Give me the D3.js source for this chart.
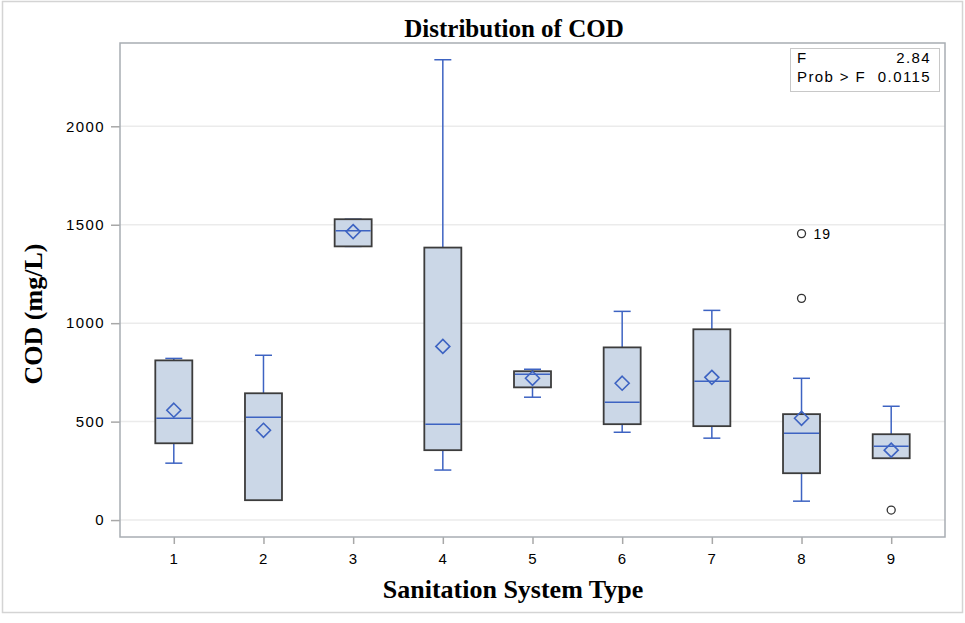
<!DOCTYPE html>
<html>
<head>
<meta charset="utf-8">
<script src="https://cdn.jsdelivr.net/npm/d3@7"></script>
<style>
  body { margin: 0; background: #fff; }
  svg text { fill: #000; }
</style>
</head>
<body>
<svg id="chart" width="965" height="623"></svg>
<script>
// data
var types = ["1", "2", "3", "4", "5", "6", "7", "8", "9"];
var whiskLow  = [289, 101, 1390, 254, 624, 446, 416, 96, 314];
var q1        = [390, 101, 1390, 355, 674, 487, 477, 238, 314];
var median    = [517, 522, 1470, 487, 740, 598, 705, 441, 375];
var q3        = [811, 644, 1528, 1384, 756, 877, 969, 538, 436];
var whiskHigh = [821, 837, 1528, 2338, 766, 1060, 1065, 720, 578];
var means     = [558, 456, 1465, 882, 720, 695, 725, 517, 355];
var outliers  = [
  {type: "8", value: 1455, label: "19"},
  {type: "8", value: 1126, label: ""},
  {type: "9", value: 51, label: ""}
];
var yTicks = [0, 500, 1000, 1500, 2000];
var stats = [["F", "2.84"], ["Prob > F", "0.0115"]];

var svg = d3.select("#chart");
var pLeft = 120, pRight = 945, pTop = 43, pBottom = 537;

var x = d3.scalePoint().domain(types).range([pLeft, pRight]).padding(0.6);
var y = d3.scaleLinear().domain([-86, 2423]).range([pBottom, pTop]);

var blue = "#3d63c2";
var boxW = 37, capW = 17;
var sans = "Liberation Sans, Arial, sans-serif";
var serif = "Liberation Serif, Times New Roman, serif";

// outer border
svg.append("rect")
  .attr("x", 2.5).attr("y", 1.5).attr("width", 960).attr("height", 611)
  .attr("fill", "none").attr("stroke", "#d4d4d4").attr("stroke-width", 1.5);

// grid
svg.append("g").selectAll("line").data(yTicks).enter().append("line")
  .attr("x1", pLeft).attr("x2", pRight)
  .attr("y1", function(d) { return y(d); }).attr("y2", function(d) { return y(d); })
  .attr("stroke", "#ebebeb").attr("stroke-width", 1.5);

// axes
var yAxis = svg.append("g").attr("transform", "translate(" + pLeft + ",0)")
  .call(d3.axisLeft(y).tickValues(yTicks).tickSize(9).tickPadding(6).tickFormat(d3.format("d")));
var xAxis = svg.append("g").attr("transform", "translate(0," + pBottom + ")")
  .call(d3.axisBottom(x).tickSize(7).tickPadding(9));
[yAxis, xAxis].forEach(function(a) {
  a.select(".domain").remove();
  a.selectAll(".tick line").attr("stroke", "#a8a8a8").attr("stroke-width", 1.5);
  a.selectAll(".tick text").attr("font-family", sans).attr("font-size", 15)
    .attr("letter-spacing", "1.4px").attr("fill", "#000");
});

// plot frame
svg.append("rect")
  .attr("x", pLeft).attr("y", pTop).attr("width", pRight - pLeft).attr("height", pBottom - pTop)
  .attr("fill", "none").attr("stroke", "#a8adb3").attr("stroke-width", 1.5);

// boxes
var g = svg.append("g").selectAll("g").data(types).enter().append("g");

g.append("line") // whisker
  .attr("x1", function(d) { return x(d); }).attr("x2", function(d) { return x(d); })
  .attr("y1", function(d, i) { return y(whiskLow[i]); })
  .attr("y2", function(d, i) { return y(whiskHigh[i]); })
  .attr("stroke", blue).attr("stroke-width", 1.5);

g.selectAll(".cap").data(function(d, i) { return [[d, whiskLow[i]], [d, whiskHigh[i]]]; })
  .enter().append("line").attr("class", "cap")
  .attr("x1", function(d) { return x(d[0]) - capW / 2; })
  .attr("x2", function(d) { return x(d[0]) + capW / 2; })
  .attr("y1", function(d) { return y(d[1]); }).attr("y2", function(d) { return y(d[1]); })
  .attr("stroke", blue).attr("stroke-width", 1.5);

g.append("rect")
  .attr("x", function(d) { return x(d) - boxW / 2; })
  .attr("y", function(d, i) { return y(q3[i]); })
  .attr("width", boxW)
  .attr("height", function(d, i) { return y(q1[i]) - y(q3[i]); })
  .attr("fill", "#cbd7e7").attr("stroke", "#3c3c3c").attr("stroke-width", 1.8);

g.append("line") // median
  .attr("x1", function(d) { return x(d) - boxW / 2 + 1; })
  .attr("x2", function(d) { return x(d) + boxW / 2 - 1; })
  .attr("y1", function(d, i) { return y(median[i]); })
  .attr("y2", function(d, i) { return y(median[i]); })
  .attr("stroke", blue).attr("stroke-width", 1.5);

g.append("path") // mean diamond
  .attr("d", function(d, i) {
    var cx = x(d), cy = y(means[i]), r = 7;
    return "M" + cx + "," + (cy - r) + "L" + (cx + r) + "," + cy + "L" + cx + "," + (cy + r) + "L" + (cx - r) + "," + cy + "Z";
  })
  .attr("fill", "none").attr("stroke", blue).attr("stroke-width", 1.6);

// outliers
var o = svg.append("g").selectAll("g").data(outliers).enter().append("g");
o.append("circle")
  .attr("cx", function(d) { return x(d.type); })
  .attr("cy", function(d) { return y(d.value); })
  .attr("r", 4).attr("fill", "none").attr("stroke", "#333").attr("stroke-width", 1.3);
o.append("text")
  .attr("x", function(d) { return x(d.type) + 12; })
  .attr("y", function(d) { return y(d.value) + 5; })
  .attr("font-family", sans).attr("font-size", 14).attr("letter-spacing", "1px")
  .text(function(d) { return d.label; });

// inset stats
svg.append("rect").attr("x", 790.5).attr("y", 48.5).attr("width", 149).attr("height", 43)
  .attr("fill", "#fff").attr("stroke", "#c8c8c8").attr("stroke-width", 1);
var st = svg.append("g").selectAll("g").data(stats).enter().append("g");
st.append("text").attr("x", 797).attr("y", function(d, i) { return 63 + i * 19; })
  .attr("font-family", sans).attr("font-size", 15).attr("letter-spacing", "1.4px")
  .text(function(d) { return d[0]; });
st.append("text").attr("x", 931).attr("y", function(d, i) { return 63 + i * 19; })
  .attr("text-anchor", "end")
  .attr("font-family", sans).attr("font-size", 15).attr("letter-spacing", "1.4px")
  .text(function(d) { return d[1]; });

// titles
svg.append("text").attr("x", 514).attr("y", 37).attr("text-anchor", "middle")
  .attr("font-family", serif).attr("font-weight", "bold").attr("font-size", 25)
  .text("Distribution of COD");
svg.append("text").attr("x", 513).attr("y", 598).attr("text-anchor", "middle")
  .attr("font-family", serif).attr("font-weight", "bold").attr("font-size", 26)
  .text("Sanitation System Type");
svg.append("text").attr("transform", "translate(42,314) rotate(-90)").attr("text-anchor", "middle")
  .attr("font-family", serif).attr("font-weight", "bold").attr("font-size", 26)
  .text("COD (mg/L)");
</script>
</body>
</html>
